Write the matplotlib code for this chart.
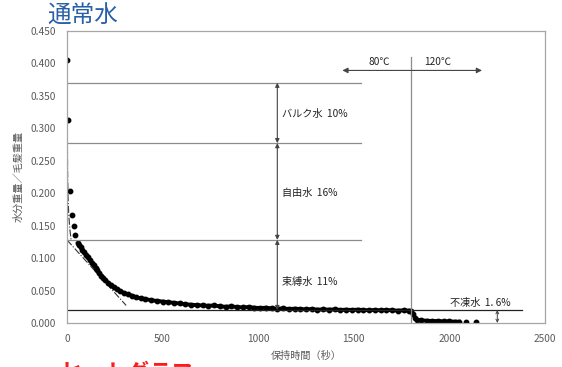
import matplotlib
matplotlib.use("Agg")
import matplotlib.pyplot as plt

plt.rcParams['font.family'] = ['Noto Sans CJK JP', 'DejaVu Sans']

# ── data: water content vs holding time ──
# isolated early readings
early_t = [0, 7, 16, 28, 37, 45]
early_v = [0.405, 0.313, 0.204, 0.167, 0.149, 0.136]

# continuous drying curve
curve_t = [59, 65, 72, 80, 90, 100, 110, 120, 130, 140, 150, 160, 170, 180, 190,
           200, 215, 230, 245, 260, 280, 300, 320, 340, 360, 385, 410, 440, 470,
           500, 530, 560, 590, 620, 650, 680, 710, 740, 770, 800, 830, 860, 890,
           920, 950, 980, 1010, 1040, 1070, 1100, 1130, 1160, 1190, 1220, 1250,
           1280, 1310, 1340, 1370, 1400, 1430, 1460, 1490, 1520, 1550, 1580,
           1610, 1640, 1670, 1700, 1730, 1760, 1790, 1800, 1810, 1820, 1830,
           1850, 1880, 1910, 1940, 1970, 2000, 2030, 2050]
curve_v = [0.123, 0.120, 0.117, 0.113, 0.109, 0.105, 0.101, 0.097, 0.093, 0.089,
           0.085, 0.081, 0.077, 0.073, 0.070, 0.066, 0.062, 0.058, 0.055, 0.052,
           0.049, 0.046, 0.044, 0.042, 0.040, 0.038, 0.037, 0.035, 0.034, 0.033,
           0.032, 0.031, 0.030, 0.029, 0.028, 0.0275, 0.027, 0.0265, 0.027,
           0.0255, 0.025, 0.0255, 0.0245, 0.024, 0.0245, 0.0235, 0.023, 0.0235,
           0.0225, 0.022, 0.0225, 0.0215, 0.022, 0.0215, 0.021, 0.0215, 0.0205,
           0.021, 0.0205, 0.021, 0.020, 0.0205, 0.020, 0.0205, 0.020, 0.0195,
           0.020, 0.0195, 0.020, 0.0195, 0.019, 0.0195, 0.019, 0.018, 0.014,
           0.008, 0.005, 0.004, 0.0035, 0.003, 0.003, 0.0025, 0.0025, 0.002,
           0.002]

tail_t = [2088, 2141]
tail_v = [0.002, 0.001]

# tangent / guide lines (dash-dot)
guide1_t = [3, 4, 6, 10, 16, 22]
guide1_v = [0.271, 0.230, 0.195, 0.165, 0.143, 0.128]
guide2_t = [0, 310]
guide2_v = [0.128, 0.027]

# water fractions: boundaries and labels
levels = [0.370, 0.277, 0.128, 0.020]
band_labels = ["バルク水  10%", "自由水  16%", "束縛水  11%"]
band_label_y = [0.322, 0.200, 0.063]

x_ticks = [0, 500, 1000, 1500, 2000, 2500]
y_ticks = [0.0, 0.05, 0.10, 0.15, 0.20, 0.25, 0.30, 0.35, 0.40, 0.45]

GRAY = "#8c8c8c"
TXT = "#595959"
FS = 7.3

fig = plt.figure(figsize=(5.62, 3.67), dpi=100)
ax = fig.add_axes([0.119, 0.120, 0.851, 0.796])

ax.plot(guide1_t, guide1_v, color="#333333", lw=0.8, ls="-.")
ax.plot(guide2_t, guide2_v, color="#333333", lw=0.8, ls="-.")

ax.plot(curve_t, curve_v, color="black", lw=2.8, marker="o", ms=3.2)
ax.plot(early_t, early_v, "o", color="black", ms=3.2, ls="none")
ax.plot(tail_t, tail_v, "o", color="black", ms=3.2, ls="none")

# fraction boundaries
for lv in levels[:3]:
    ax.plot([0, 1540], [lv, lv], color=GRAY, lw=0.9)
ax.plot([0, 2380], [levels[3], levels[3]], color="#222222", lw=0.9)

# double arrows between boundaries
for top, bot, lab, ly in zip(levels[:3], levels[1:], band_labels, band_label_y):
    ax.annotate("", xy=(1100, bot), xytext=(1100, top),
                arrowprops=dict(arrowstyle="<|-|>", color="#444444", lw=0.8,
                                mutation_scale=6, shrinkA=0, shrinkB=0))
    ax.text(1125, ly, lab, fontsize=FS, color="#222222", va="center", ha="left")

# non-freezing water
ax.annotate("", xy=(2250, 0.0), xytext=(2250, levels[3]),
            arrowprops=dict(arrowstyle="<->", color="#444444", lw=0.7,
                            mutation_scale=5, shrinkA=0, shrinkB=0))
ax.text(2005, 0.0225, "不凍水  1. 6%", fontsize=FS, color="#222222",
        va="bottom", ha="left")

# temperature switch
ax.plot([1800, 1800], [0, 0.41], color=GRAY, lw=0.9)
ax.annotate("", xy=(1440, 0.389), xytext=(1800, 0.389),
            arrowprops=dict(arrowstyle="-|>", color="#444444", lw=0.8,
                            mutation_scale=8, shrinkA=0, shrinkB=0))
ax.annotate("", xy=(2170, 0.389), xytext=(1800, 0.389),
            arrowprops=dict(arrowstyle="-|>", color="#444444", lw=0.8,
                            mutation_scale=8, shrinkA=0, shrinkB=0))
ax.text(1635, 0.394, "80℃", fontsize=FS, color="#222222", ha="center", va="bottom")
ax.text(1940, 0.394, "120℃", fontsize=FS, color="#222222", ha="center", va="bottom")

ax.set_xlim(0, 2500)
ax.set_ylim(0, 0.45)
ax.set_xticks(x_ticks)
ax.set_yticks(y_ticks)
ax.set_yticklabels([f"{v:.3f}" for v in y_ticks])
ax.tick_params(length=0, labelsize=FS, labelcolor=TXT, pad=8)
for sp in ax.spines.values():
    sp.set_color("#a6a6a6")
    sp.set_linewidth(0.9)

ax.set_xlabel("保持時間（秒）", fontsize=FS, color=TXT, labelpad=5)
ax.set_ylabel("水分重量／毛髪重量", fontsize=FS, color=TXT, labelpad=5)

fig.text(0.085, 0.955, "通常水", fontsize=17, color="#2860a8", ha="left", va="center")
fig.text(0.107, 0.014, "ヒートグラフ", fontsize=16, color="#ff1a1a",
         ha="left", va="top", fontweight="bold")

fig.savefig("out.png", dpi=100)
